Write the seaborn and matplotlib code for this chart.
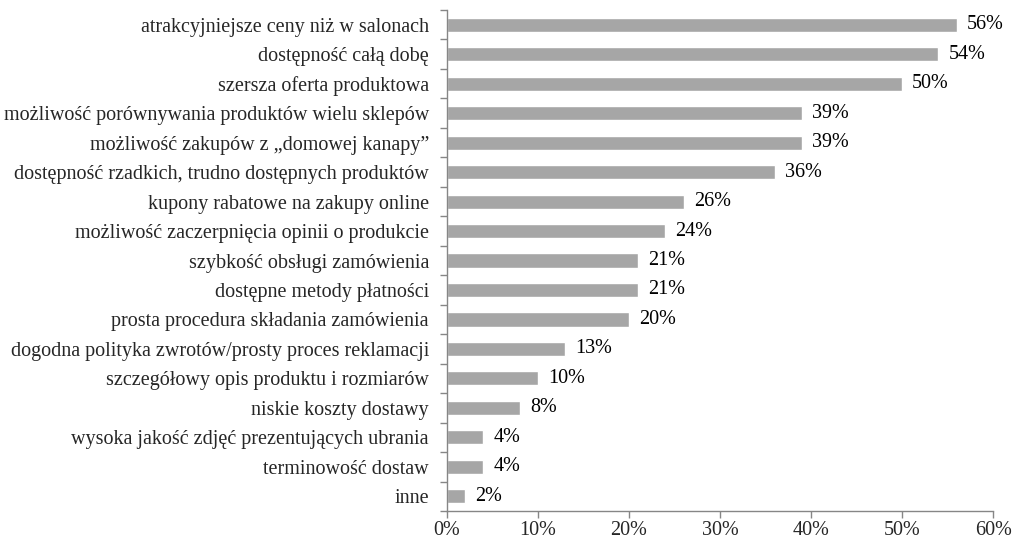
import matplotlib
matplotlib.use("Agg")
import matplotlib.pyplot as plt
import seaborn as sns
import pandas as pd
from matplotlib.ticker import FixedLocator, PercentFormatter

categories = [
    "atrakcyjniejsze ceny niż w salonach",
    "dostępność całą dobę",
    "szersza oferta produktowa",
    "możliwość porównywania produktów wielu sklepów",
    "możliwość zakupów z \u201edomowej kanapy\u201d",
    "dostępność rzadkich, trudno dostępnych produktów",
    "kupony rabatowe na zakupy online",
    "możliwość zaczerpnięcia opinii o produkcie",
    "szybkość obsługi zamówienia",
    "dostępne metody płatności",
    "prosta procedura składania zamówienia",
    "dogodna polityka zwrotów/prosty proces reklamacji",
    "szczegółowy opis produktu i rozmiarów",
    "niskie koszty dostawy",
    "wysoka jakość zdjęć prezentujących ubrania",
    "terminowość dostaw",
    "inne",
]
values = [56, 54, 50, 39, 39, 36, 26, 24, 21, 21, 20, 13, 10, 8, 4, 4, 2]
x_ticks = [0, 10, 20, 30, 40, 50, 60]

df = pd.DataFrame({"category": categories, "value": values})

sns.set_style("white")
plt.rcParams["font.family"] = ["Liberation Serif", "DejaVu Serif"]
fs = 14.5

fig = plt.figure(figsize=(10.17, 5.42), dpi=100)
ax = fig.add_axes([0.4395, 0.0572, 0.5370, 0.9243])

sns.barplot(data=df, x="value", y="category", orient="h", color="#a6a6a6",
            saturation=1, width=0.48, ax=ax)

for i, v in enumerate(values):
    ax.text(v + 1.1, i, f"{v}%", va="center", ha="left", fontsize=fs, color="black")

ax.set_xlim(0, 60)
ax.set_ylim(len(categories) - 0.5, -0.5)
ax.xaxis.set_major_locator(FixedLocator(x_ticks))
ax.xaxis.set_major_formatter(PercentFormatter(decimals=0))
ax.set_xlabel("")
ax.set_ylabel("")

# category-boundary ticks on y, Excel style
ax.yaxis.set_minor_locator(FixedLocator([i - 0.5 for i in range(len(categories) + 1)]))
ax.tick_params(axis="y", which="major", length=0, labelsize=fs, pad=13)
ax.tick_params(axis="y", which="minor", length=5, color="#868686", width=1, direction="out", left=True)
ax.tick_params(axis="x", which="major", length=5, color="#868686", width=1, direction="out",
               bottom=True, labelsize=fs, pad=2)

for s in ["top", "right"]:
    ax.spines[s].set_visible(False)
for s in ["left", "bottom"]:
    ax.spines[s].set_color("#868686")
    ax.spines[s].set_linewidth(1)

fig.savefig("out.png", dpi=100)
